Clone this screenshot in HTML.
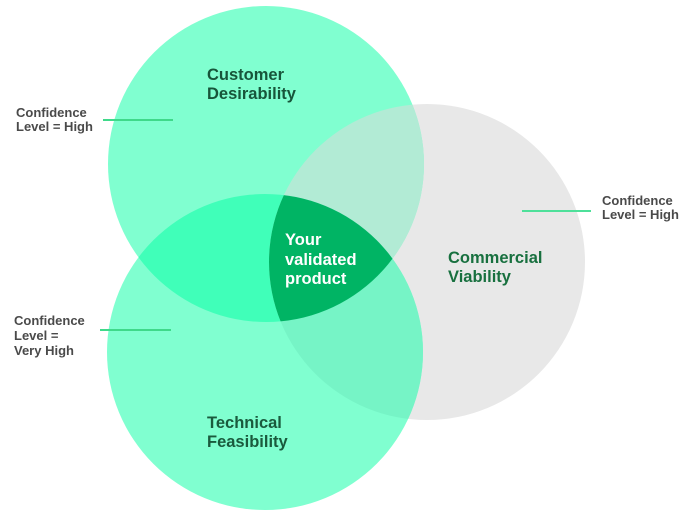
<!DOCTYPE html>
<html>
<head>
<meta charset="utf-8">
<style>
  html, body { margin: 0; padding: 0; background: #ffffff; }
  svg { display: block; }
  .t { font-family: "Liberation Sans", sans-serif; font-weight: bold; font-size: 16.5px; }
  .lbl { font-family: "Liberation Sans", sans-serif; font-weight: bold; font-size: 13px; fill: #4a4a4a; }
</style>
</head>
<body>
<svg width="700" height="524" viewBox="0 0 700 524" xmlns="http://www.w3.org/2000/svg">
  <defs>
    <clipPath id="cA"><circle cx="266" cy="164" r="158"/></clipPath>
    <clipPath id="cB"><circle cx="427" cy="262" r="158"/></clipPath>
    <clipPath id="cC"><circle cx="265" cy="352" r="158"/></clipPath>
  </defs>
  <rect width="700" height="524" fill="#ffffff"/>

  <!-- base circles -->
  <circle cx="427" cy="262" r="158" fill="#e8e8e8"/>
  <circle cx="266" cy="164" r="158" fill="#80ffd0"/>
  <circle cx="265" cy="352" r="158" fill="#80ffd0"/>

  <!-- A ∩ C -->
  <circle cx="265" cy="352" r="158" fill="#40ffb9" clip-path="url(#cA)"/>
  <!-- A ∩ B -->
  <circle cx="427" cy="262" r="158" fill="#b2ebd5" clip-path="url(#cA)"/>
  <!-- B ∩ C -->
  <circle cx="427" cy="262" r="158" fill="#76f4c6" clip-path="url(#cC)"/>
  <!-- A ∩ B ∩ C -->
  <g clip-path="url(#cA)">
    <circle cx="427" cy="262" r="158" fill="#00b464" clip-path="url(#cC)"/>
  </g>

  <!-- connector lines -->
  <line x1="103" y1="120" x2="173" y2="120" stroke="#3fd98a" stroke-width="2"/>
  <line x1="522" y1="211" x2="591" y2="211" stroke="#4ee09a" stroke-width="2"/>
  <line x1="100" y1="330" x2="171" y2="330" stroke="#3fd98a" stroke-width="2"/>

  <!-- side labels -->
  <text class="lbl" x="16" y="117">Confidence</text>
  <text class="lbl" x="16" y="131">Level = High</text>

  <text class="lbl" x="602" y="205">Confidence</text>
  <text class="lbl" x="602" y="219">Level = High</text>

  <text class="lbl" x="14" y="325">Confidence</text>
  <text class="lbl" x="14" y="340">Level =</text>
  <text class="lbl" x="14" y="355">Very High</text>

  <!-- titles -->
  <text class="t" x="207" y="80" fill="#17553a">Customer</text>
  <text class="t" x="207" y="99" fill="#17553a">Desirability</text>

  <text class="t" x="207" y="428" fill="#1a5a3d">Technical</text>
  <text class="t" x="207" y="447" fill="#1a5a3d">Feasibility</text>

  <text class="t" x="448" y="263" fill="#18703f">Commercial</text>
  <text class="t" x="448" y="282" fill="#18703f">Viability</text>

  <text class="t" x="285" y="245" fill="#ffffff">Your</text>
  <text class="t" x="285" y="265" fill="#ffffff">validated</text>
  <text class="t" x="285" y="284" fill="#ffffff">product</text>
</svg>
</body>
</html>
